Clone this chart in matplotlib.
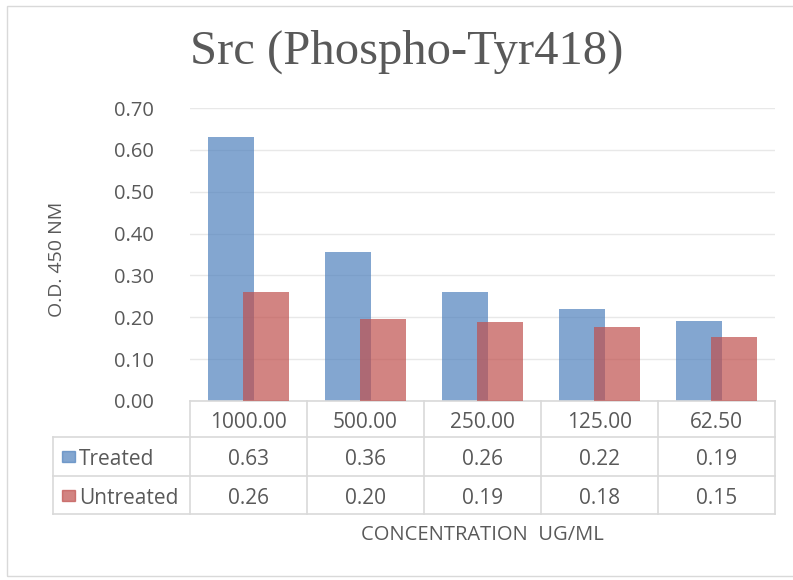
import matplotlib.pyplot as plt
from matplotlib.patches import Rectangle
from matplotlib.lines import Line2D

# data
concentrations = ['1000.00', '500.00', '250.00', '125.00', '62.50']
treated = [0.63, 0.357, 0.26, 0.22, 0.191]
untreated = [0.26, 0.197, 0.189, 0.177, 0.153]
treated_lbl = ['0.63', '0.36', '0.26', '0.22', '0.19']
untreated_lbl = ['0.26', '0.20', '0.19', '0.18', '0.15']
yticks = [0.0, 0.1, 0.2, 0.3, 0.4, 0.5, 0.6, 0.7]

blue = '#4F81BD'
red = '#C0504D'
txt = '#595959'
grid = '#E8E8E8'
plt.rcParams['font.family'] = ['Open Sans', 'DejaVu Sans']

W, H = 793, 580
fig = plt.figure(figsize=(W / 100, H / 100), dpi=100)

# outer chart frame
fig.add_artist(Rectangle((7 / W, 4 / H), (W - 4) / W, (H - 10) / H,
                         transform=fig.transFigure, fill=False,
                         edgecolor='#D9D9D9', lw=1))

px0, px1, py0, py1 = 190, 775, 401, 108
ax = fig.add_axes([px0 / W, (H - py0) / H, (px1 - px0) / W, (py0 - py1) / H])

x = range(len(concentrations))
w = 0.395
off = 0.147
ax.bar([i - off for i in x], treated, width=w, color=blue, alpha=0.7, zorder=2)
ax.bar([i + off for i in x], untreated, width=w, color=red, alpha=0.7, zorder=3)

ax.set_xlim(-0.5, len(concentrations) - 0.5)
ax.set_ylim(0, 0.7)
ax.set_yticks(yticks)
ax.set_yticklabels(['%.2f' % v for v in yticks], color=txt, fontsize=14.5)
ax.tick_params(axis='y', length=0, pad=26)
ax.set_xticks([])
for s in ['top', 'right', 'left', 'bottom']:
    ax.spines[s].set_visible(False)
ax.grid(axis='y', color=grid, lw=1, zorder=0)
ax.set_axisbelow(True)

# data table below the axes
tr = ax.get_xaxis_transform()
ph = py0 - py1
row_y = [0, -(437 - py0) / ph, -(476 - py0) / ph, -(514 - py0) / ph]
left = -0.5 + (53 - px0) / 117.0
lc = '#D9D9D9'
n = len(concentrations)

def hline(x0, x1, y):
    ax.add_line(Line2D([x0, x1], [y, y], transform=tr, color=lc, lw=1.2, clip_on=False))

def vline(xx, y0, y1):
    ax.add_line(Line2D([xx, xx], [y0, y1], transform=tr, color=lc, lw=1.2, clip_on=False))

hline(-0.5, n - 0.5, row_y[0])
for y in row_y[1:]:
    hline(left, n - 0.5, y)
for k in range(n + 1):
    vline(k - 0.5, row_y[0], row_y[3])
vline(left, row_y[1], row_y[3])

def cy(r):
    return (row_y[r] + row_y[r + 1]) / 2

dy = -3 / ph  # nudge text a little lower in the cells
fs = 15
for i in x:
    ax.text(i, cy(0) + dy, concentrations[i], transform=tr, ha='center', va='center',
            color=txt, fontsize=fs)
    ax.text(i, cy(1) + dy, treated_lbl[i], transform=tr, ha='center', va='center',
            color=txt, fontsize=fs)
    ax.text(i, cy(2) + dy, untreated_lbl[i], transform=tr, ha='center', va='center',
            color=txt, fontsize=fs)

sw = 13 / 117.0
for r, name, c in [(1, 'Treated', blue), (2, 'Untreated', red)]:
    sh = 11 / ph
    ax.add_patch(Rectangle((left + 9 / 117.0, cy(r) - sh / 2), sw, sh, transform=tr,
                           color=c, alpha=0.7, clip_on=False))
    ax.text(left + 26 / 117.0, cy(r) + dy, name, transform=tr, ha='left', va='center',
            color=txt, fontsize=fs)

fig.text(57 / W, 1 - 259 / H, 'O.D. 450 NM', ha='center', va='center',
         rotation=90, color=txt, fontsize=14)
fig.text(482 / W, 1 - 535 / H, 'CONCENTRATION  UG/ML', ha='center', va='center',
         color=txt, fontsize=14.5)
fig.text(407 / W, 1 - 52 / H, 'Src (Phospho-Tyr418)', ha='center', va='center',
         color=txt, fontsize=35, family=['Liberation Serif', 'DejaVu Serif'])

fig.savefig('out.png', dpi=100)
